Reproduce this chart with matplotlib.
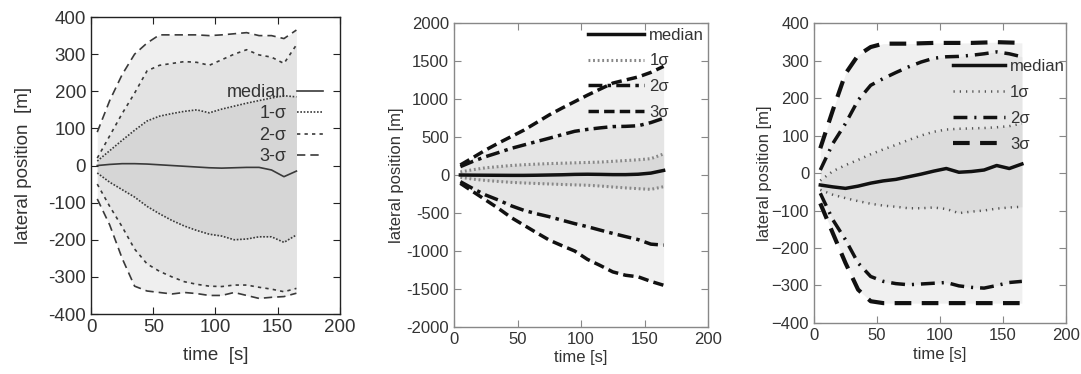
import matplotlib
matplotlib.use("Agg")
import matplotlib.pyplot as plt
from matplotlib.lines import Line2D

plt.rcParams['font.family'] = ['Liberation Sans', 'DejaVu Sans']

# ---------------- data ----------------
t = [5, 15, 25, 35, 45, 55, 65, 75, 85, 95, 105, 115, 125, 135, 145, 155, 165]

# panel 1
p1_median = [0, 3, 5, 5, 4, 2, 0, -2, -4, -6, -7, -6, -5, -5, -12, -30, -15]
p1_s1_up = [12, 40, 68, 95, 120, 133, 140, 146, 150, 142, 152, 160, 168, 175, 182, 188, 185]
p1_s1_lo = [-20, -45, -65, -85, -110, -130, -148, -163, -175, -185, -190, -200, -198, -192, -192, -207, -187]
p1_s2_up = [20, 80, 140, 195, 255, 270, 275, 280, 278, 270, 285, 300, 312, 298, 292, 275, 325]
p1_s2_lo = [-50, -110, -165, -225, -265, -285, -300, -313, -320, -325, -326, -322, -322, -328, -333, -340, -331]
p1_s3_up = [90, 175, 245, 300, 330, 352, 352, 352, 352, 350, 352, 355, 358, 350, 350, 342, 365]
p1_s3_lo = [-90, -160, -250, -325, -338, -342, -346, -342, -345, -350, -350, -342, -350, -358, -355, -353, -344]

# panel 2
p2_median = [0, -2, -3, -4, -5, -5, -3, 0, 3, 8, 10, 8, 5, 5, 10, 25, 60]
p2_s1_up = [40, 70, 95, 110, 125, 135, 143, 150, 155, 160, 165, 170, 180, 190, 200, 215, 277]
p2_s1_lo = [-30, -55, -72, -85, -97, -105, -112, -118, -125, -130, -135, -145, -158, -170, -180, -189, -154]
p2_s2_up = [110, 180, 242, 295, 350, 395, 440, 484, 530, 575, 600, 620, 637, 640, 648, 690, 747]
p2_s2_lo = [-88, -180, -264, -330, -405, -465, -510, -549, -595, -640, -680, -725, -769, -810, -850, -910, -923]
p2_s3_up = [132, 230, 330, 420, 505, 590, 690, 791, 880, 965, 1050, 1130, 1209, 1250, 1290, 1350, 1429]
p2_s3_lo = [-110, -220, -330, -440, -560, -660, -760, -857, -930, -1000, -1110, -1190, -1275, -1319, -1340, -1400, -1451]

# panel 3
p3_median = [-32, -37, -41, -35, -27, -21, -17, -10, -3, 5, 12, 2, 4, 8, 20, 12, 24]
p3_s1_up = [-20, 5, 21, 35, 50, 63, 75, 88, 100, 110, 116, 118, 119, 120, 122, 125, 132]
p3_s1_lo = [-45, -58, -67, -75, -82, -87, -90, -94, -94, -92, -96, -107, -103, -100, -95, -92, -90]
p3_s2_up = [8, 79, 132, 194, 234, 252, 268, 283, 296, 306, 310, 311, 314, 318, 323, 318, 310]
p3_s2_lo = [-54, -125, -178, -240, -276, -289, -295, -298, -296, -294, -292, -301, -305, -307, -300, -292, -289]
p3_s3_up = [66, 168, 265, 314, 336, 345, 345, 345, 346, 347, 347, 347, 347, 348, 349, 348, 347]
p3_s3_lo = [-81, -161, -240, -311, -342, -347, -347, -347, -347, -347, -347, -347, -347, -347, -347, -347, -347]

x_ticks = [0, 50, 100, 150, 200]
y_ticks_400 = [-400, -300, -200, -100, 0, 100, 200, 300, 400]
y_ticks_2000 = [-2000, -1500, -1000, -500, 0, 500, 1000, 1500, 2000]

labels_p1 = ["median", "1-σ", "2-σ", "3-σ"]
labels_p23 = ["median", "1σ", "2σ", "3σ"]

# ---------------- figure ----------------
fig = plt.figure(figsize=(10.81, 3.74), dpi=100)
ax1 = fig.add_axes([0.0842, 0.1604, 0.2303, 0.794])
ax2 = fig.add_axes([0.42, 0.1257, 0.235, 0.8128])
ax3 = fig.add_axes([0.753, 0.1364, 0.2331, 0.802])


def shade(ax, s1u, s1l, s2u, s2l, s3u, s3l, base):
    ax.fill_between(t, s3l, s3u, color=base[0], lw=0, zorder=0)
    ax.fill_between(t, s2l, s2u, color=base[1], lw=0, zorder=0)
    ax.fill_between(t, s1l, s1u, color=base[2], lw=0, zorder=0)


def style_axes(ax, yt, ylabels, fs, spine_col, xlab, ylab, lab_fs, xpad, ypad):
    ax.set_xlim(0, 200)
    ax.set_ylim(yt[0], yt[-1])
    ax.set_xticks(x_ticks)
    ax.set_xticklabels([str(v) for v in x_ticks], fontsize=fs, color='#333333')
    ax.set_yticks(yt)
    ax.set_yticklabels(ylabels, fontsize=fs, color='#333333')
    ax.tick_params(direction='in', top=True, right=True, length=5, color=spine_col)
    for s in ax.spines.values():
        s.set_color(spine_col)
        s.set_linewidth(1.0)
    ax.set_xlabel(xlab, fontsize=lab_fs, color='#333333', labelpad=xpad)
    ax.set_ylabel(ylab, fontsize=lab_fs, color='#333333', labelpad=ypad)


# panel 1
shade(ax1, p1_s1_up, p1_s1_lo, p1_s2_up, p1_s2_lo, p1_s3_up, p1_s3_lo,
      ['#efefef', '#e3e3e3', '#d6d6d6'])
c1 = '#3a3a3a'
ax1.plot(t, p1_median, color=c1, lw=1.2, ls='-')
ax1.plot(t, p1_s1_up, color=c1, lw=1.2, ls=(0, (1, 1)))
ax1.plot(t, p1_s1_lo, color=c1, lw=1.2, ls=(0, (1, 1)))
ax1.plot(t, p1_s2_up, color=c1, lw=1.2, ls=(0, (2, 2.5)))
ax1.plot(t, p1_s2_lo, color=c1, lw=1.2, ls=(0, (2, 2.5)))
ax1.plot(t, p1_s3_up, color=c1, lw=1.2, ls=(0, (5, 3)))
ax1.plot(t, p1_s3_lo, color=c1, lw=1.2, ls=(0, (5, 3)))
h1 = [Line2D([], [], color=c1, lw=1.2, ls='-'),
      Line2D([], [], color=c1, lw=1.2, ls=(0, (1, 1))),
      Line2D([], [], color=c1, lw=1.2, ls=(0, (2, 2.5))),
      Line2D([], [], color=c1, lw=1.2, ls=(0, (5, 3)))]
leg1 = ax1.legend(h1, labels_p1, loc='upper right', bbox_to_anchor=(0.93, 0.775),
                  frameon=False, markerfirst=False, fontsize=13, handlelength=1.4,
                  handletextpad=0.6, labelspacing=0.25, borderpad=0, borderaxespad=0)
for tx in leg1.get_texts():
    tx.set_color('#333333')
style_axes(ax1, y_ticks_400, [str(v) for v in y_ticks_400], 13.5, '#222222',
           'time  [s]', 'lateral position  [m]', 13.5, 8, 12)

# panel 2
shade(ax2, p2_s1_up, p2_s1_lo, p2_s2_up, p2_s2_lo, p2_s3_up, p2_s3_lo,
      ['#f0f0f0', '#e5e5e5', '#d9d9d9'])
ax2.plot(t, p2_s1_up, color='#888888', lw=2.2, ls=(0, (0.6, 0.9)))
ax2.plot(t, p2_s1_lo, color='#888888', lw=2.2, ls=(0, (0.6, 0.9)))
ax2.plot(t, p2_s2_up, color='#111111', lw=2.5, ls=(0, (4, 1.5, 1, 1.5)))
ax2.plot(t, p2_s2_lo, color='#111111', lw=2.5, ls=(0, (4, 1.5, 1, 1.5)))
ax2.plot(t, p2_s3_up, color='#111111', lw=2.5, ls=(0, (3, 1.5)))
ax2.plot(t, p2_s3_lo, color='#111111', lw=2.5, ls=(0, (3, 1.5)))
ax2.plot(t, p2_median, color='#111111', lw=2.5, ls='-')
h2 = [Line2D([], [], color='#111111', lw=2.5, ls='-'),
      Line2D([], [], color='#888888', lw=2.2, ls=(0, (0.6, 0.9))),
      Line2D([], [], color='#111111', lw=2.5, ls=(0, (4, 1.5, 1, 1.5))),
      Line2D([], [], color='#111111', lw=2.5, ls=(0, (3, 1.5)))]
leg2 = ax2.legend(h2, labels_p23, loc='upper right', bbox_to_anchor=(0.985, 0.985),
                  frameon=False, fontsize=12, handlelength=3.4,
                  handletextpad=0.3, labelspacing=0.65, borderpad=0, borderaxespad=0)
for tx in leg2.get_texts():
    tx.set_color('#333333')
style_axes(ax2, y_ticks_2000, [str(v) for v in y_ticks_2000], 12, '#888888',
           'time [s]', 'lateral position [m]', 12, 2, 2)

# panel 3
shade(ax3, p3_s1_up, p3_s1_lo, p3_s2_up, p3_s2_lo, p3_s3_up, p3_s3_lo,
      ['#f0f0f0', '#e6e6e6', '#dcdcdc'])
ax3.plot(t, p3_s1_up, color='#555555', lw=1.8, ls=(0, (0.5, 2)))
ax3.plot(t, p3_s1_lo, color='#555555', lw=1.8, ls=(0, (0.5, 2)))
ax3.plot(t, p3_s2_up, color='#111111', lw=2.5, ls=(0, (4, 2, 0.6, 2)))
ax3.plot(t, p3_s2_lo, color='#111111', lw=2.5, ls=(0, (4, 2, 0.6, 2)))
ax3.plot(t, p3_s3_up, color='#111111', lw=3.0, ls=(0, (4, 2.5)))
ax3.plot(t, p3_s3_lo, color='#111111', lw=3.0, ls=(0, (4, 2.5)))
ax3.plot(t, p3_median, color='#111111', lw=2.5, ls='-')
h3 = [Line2D([], [], color='#111111', lw=2.5, ls='-'),
      Line2D([], [], color='#555555', lw=1.8, ls=(0, (0.5, 2))),
      Line2D([], [], color='#111111', lw=2.5, ls=(0, (4, 2, 0.6, 2))),
      Line2D([], [], color='#111111', lw=3.0, ls=(0, (4, 2.5)))]
leg3 = ax3.legend(h3, labels_p23, loc='upper right', bbox_to_anchor=(0.995, 0.88),
                  frameon=False, fontsize=12, handlelength=3.1,
                  handletextpad=0.3, labelspacing=0.65, borderpad=0, borderaxespad=0)
for tx in leg3.get_texts():
    tx.set_color('#333333')
style_axes(ax3, y_ticks_400, [str(v).replace('-', '\u2212') for v in y_ticks_400], 12,
           '#888888', 'time [s]', 'lateral position [m]', 12, 3, 0)

fig.savefig('out.png', dpi=100)
